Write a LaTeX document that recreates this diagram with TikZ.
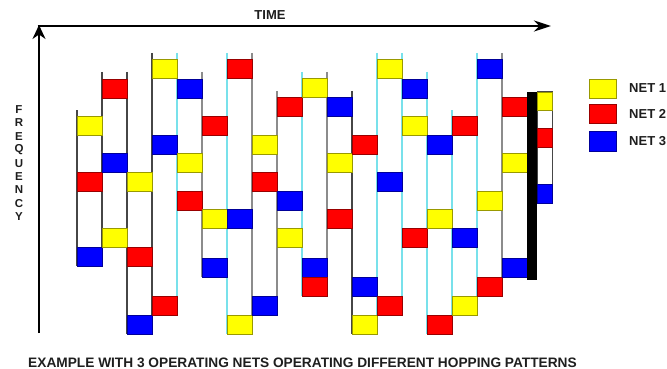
\documentclass[tikz,border=0pt]{standalone}
\usepackage{fontspec}
\setmainfont{Liberation Sans}
\usetikzlibrary{arrows.meta}

\definecolor{netY}{RGB}{255,255,0}
\definecolor{netR}{RGB}{255,0,0}
\definecolor{netB}{RGB}{0,0,255}
\definecolor{edgeDark}{RGB}{70,70,70}
\definecolor{edgeGray}{RGB}{140,140,140}
\definecolor{edgeCyan}{RGB}{120,225,235}
\definecolor{ink}{RGB}{30,30,30}

\begin{document}
\begin{tikzpicture}[x=1pt,y=-1pt,
  slot/.style={fill=#1, draw=#1!60!black, line width=0.7pt},
  lane/.style={line width=1.1pt, draw=#1},
  axisline/.style={line width=2.6pt, draw=black},
  label/.style={font=\bfseries\fontsize{13}{13}\selectfont, text=ink, inner sep=0pt}
]
\useasboundingbox (0,0) rectangle (667,369);

% time slot boundaries (x, top, bottom, colour)
\foreach \x/\t/\b/\c in {
  77/110/266/edgeDark, 102/72/266/edgeDark, 127/72/334/edgeDark,
  152/53/334/edgeDark, 177/53/314/edgeCyan, 202/72/277/edgeGray,
  227/53/334/edgeCyan, 252/53/334/edgeGray, 277/91/315/edgeGray,
  302/72/296/edgeCyan, 327/72/296/edgeGray, 352/91/334/edgeDark,
  377/53/334/edgeCyan, 402/53/315/edgeCyan, 427/72/334/edgeCyan,
  452/110/334/edgeCyan, 477/53/315/edgeCyan, 502/53/296/edgeGray}
  \draw[lane=\c] (\x,\t) -- (\x,\b);

% hops: slot index / top edge / net colour
\foreach \s/\t/\f in {
  0/116/netY, 0/172/netR, 0/247/netB,
  1/79/netR, 1/153/netB, 1/228/netY,
  2/172/netY, 2/247/netR, 2/315/netB,
  3/59/netY, 3/135/netB, 3/296/netR,
  4/79/netB, 4/153/netY, 4/191/netR,
  5/116/netR, 5/209/netY, 5/258/netB,
  6/59/netR, 6/209/netB, 6/315/netY,
  7/135/netY, 7/172/netR, 7/296/netB,
  8/97/netR, 8/191/netB, 8/228/netY,
  9/78/netY, 9/258/netB, 9/277/netR,
  10/97/netB, 10/153/netY, 10/209/netR,
  11/135/netR, 11/277/netB, 11/315/netY,
  12/59/netY, 12/172/netB, 12/296/netR,
  13/79/netB, 13/116/netY, 13/228/netR,
  14/135/netB, 14/209/netY, 14/315/netR,
  15/116/netR, 15/228/netB, 15/296/netY,
  16/59/netB, 16/191/netY, 16/277/netR,
  17/97/netR, 17/153/netY, 17/258/netB}
  \path[slot=\f] ({77+25*\s},\t) rectangle ++(25,19);

% current slot marker and the next slot
\fill[black] (527,92) rectangle (537,280);
\draw[edgeDark, line width=1pt, fill=white] (537,92) rectangle (552,203);
\path[slot=netY] (537,92) rectangle (552,110);
\path[slot=netR] (537,128) rectangle (552,147);
\path[slot=netB] (537,184) rectangle (552,203);

% axes
\coordinate (origin) at (39,333);
\coordinate (ytip) at (39,25);
\coordinate (xstart) at (37.7,26);
\coordinate (xtip) at (551,26);
\draw[axisline, -{Stealth[length=14pt,width=13pt]}] (origin) -- (ytip);
\draw[axisline, -{Stealth[length=17pt,width=11pt]}] (xstart) -- (xtip);

\node[label] (timelbl) at (270,15) {TIME};

\foreach \ch [count=\i from 0] in {F,R,E,Q,U,E,N,C,Y}
  \node[label, font=\bfseries\fontsize{11.5}{11.5}\selectfont] (freq\i) at (19,{109.5+13.4*\i}) {\ch};

% legend
\path[slot=netY] (589,79) rectangle (616,98);
\path[slot=netR] (589,104) rectangle (616,123);
\path[slot=netB] (589,131) rectangle (616,151);
\node[label, anchor=west] (net1) at (629,88.5) {NET 1};
\node[label, anchor=west] (net2) at (629,114) {NET 2};
\node[label, anchor=west] (net3) at (629,141) {NET 3};

\node[label, font=\bfseries\fontsize{13.7}{13.7}\selectfont] (caption) at (302.5,362.5)
  {EXAMPLE WITH 3 OPERATING NETS OPERATING DIFFERENT HOPPING PATTERNS};
\end{tikzpicture}
\end{document}
